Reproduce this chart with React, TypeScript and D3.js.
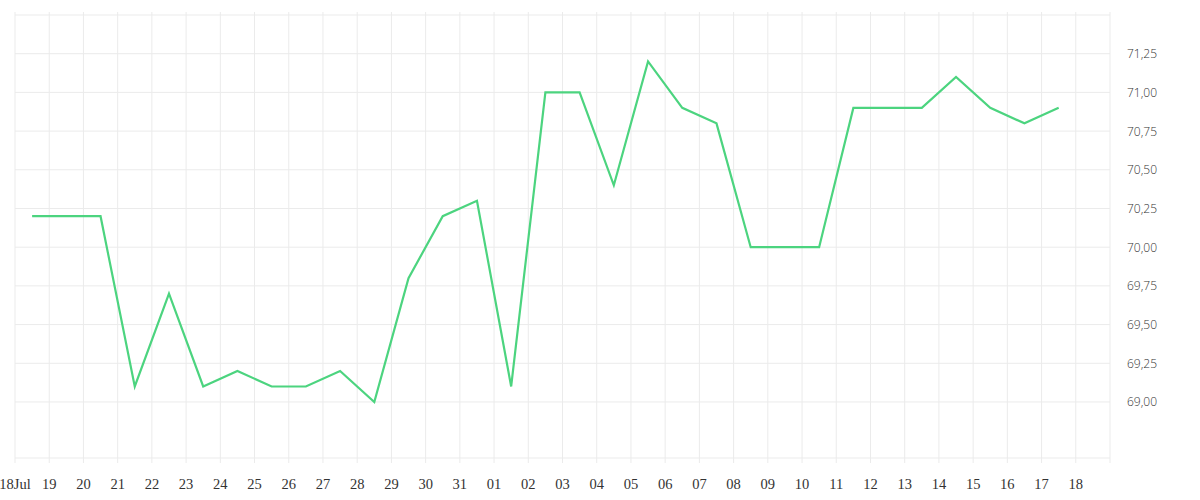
import React from "react";
import * as d3 from "d3";

const dates: string[] = [
  "2023-07-18", "2023-07-19", "2023-07-20", "2023-07-21", "2023-07-22", "2023-07-23",
  "2023-07-24", "2023-07-25", "2023-07-26", "2023-07-27", "2023-07-28", "2023-07-29",
  "2023-07-30", "2023-07-31", "2023-08-01", "2023-08-02", "2023-08-03", "2023-08-04",
  "2023-08-05", "2023-08-06", "2023-08-07", "2023-08-08", "2023-08-09", "2023-08-10",
  "2023-08-11", "2023-08-12", "2023-08-13", "2023-08-14", "2023-08-15", "2023-08-16",
  "2023-08-17",
];
const values: number[] = [
  70.2, 70.2, 70.2, 69.1, 69.7, 69.1, 69.2, 69.1, 69.1, 69.2, 69.0, 69.8,
  70.2, 70.3, 69.1, 71.0, 71.0, 70.4, 71.2, 70.9, 70.8, 70.0, 70.0, 70.0,
  70.9, 70.9, 70.9, 71.1, 70.9, 70.8, 70.9,
];
const yTicks: number[] = [69.0, 69.25, 69.5, 69.75, 70.0, 70.25, 70.5, 70.75, 71.0, 71.25];

const W = 1200;
const H = 500;
const left = 15;
const right = 1110;
const top = 15;
const bottom = 458;

const parse = d3.utcParse("%Y-%m-%d");

export default function App() {
  const start = parse("2023-07-18")!;
  const end = parse("2023-08-19")!;
  const x = d3.scaleUtc().domain([start, end]).range([left, right]);
  const y = d3.scaleLinear().domain([68.638, 71.5]).range([bottom, top]);
  const days = d3.utcDay.range(start, d3.utcDay.offset(end, 1));
  const pts = dates.map((d, i) => ({ t: d3.utcHour.offset(parse(d)!, 12), v: values[i] }));
  const line = d3
    .line<{ t: Date; v: number }>()
    .x((d) => x(d.t))
    .y((d) => y(d.v));
  const fmtY = (v: number) => v.toFixed(2).replace(".", ",");
  const fmtX = (d: Date) =>
    d.getUTCDate() === 18 && d.getUTCMonth() === 6 ? "18Jul" : d3.utcFormat("%d")(d);

  return (
    <svg width={W} height={H} style={{ position: "absolute", left: 0, top: 0 }}>
      <rect width={W} height={H} fill="#fff" />
      {days.map((d, i) => (
        <line
          key={"v" + i}
          x1={x(d)}
          x2={x(d)}
          y1={top - 3}
          y2={bottom + 5}
          stroke="#ebebeb"
          strokeWidth={1}
        />
      ))}
      <line x1={left} x2={right} y1={top} y2={top} stroke="#ebebeb" />
      <line x1={left} x2={right} y1={bottom} y2={bottom} stroke="#ebebeb" />
      {yTicks.map((v, i) => (
        <line key={"h" + i} x1={left} x2={right} y1={y(v)} y2={y(v)} stroke="#ebebeb" />
      ))}
      {yTicks.map((v, i) => (
        <text
          key={"yl" + i}
          x={1127}
          y={y(v) + 4.5}
          fontFamily="'Open Sans', sans-serif"
          fontSize={12}
          fontWeight={300}
          fill="#333"
        >
          {fmtY(v)}
        </text>
      ))}
      {days.slice(0, days.length - 1).map((d, i) => (
        <text
          key={"xl" + i}
          x={x(d)}
          y={489}
          textAnchor="middle"
          fontFamily="'Liberation Serif', serif"
          fontSize={14.5}
          fill="#333"
        >
          {fmtX(d)}
        </text>
      ))}
      <path d={line(pts) || ""} fill="none" stroke="#4cd47f" strokeWidth={2.2} strokeLinejoin="miter" />
    </svg>
  );
}
